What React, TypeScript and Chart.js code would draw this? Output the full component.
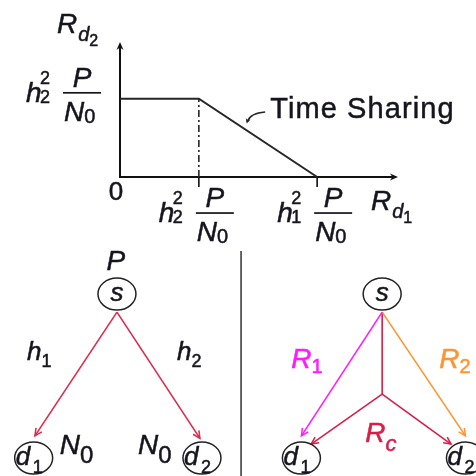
import React, { useEffect, useRef } from "react";
import { Chart, registerables } from "chart.js";

Chart.register(...registerables);

const FONT = '"Liberation Sans", "DejaVu Sans", sans-serif';
const INK = "#15151f";
const LINE = "#262626";

// ---- Rate region (rates in units of P/N0) ----
const h2Snr = 1.0; // h2^2 P/N0
const h1Snr = 2.5; // h1^2 P/N0
const regionX = [0, h2Snr, h1Snr];
const regionY = [h2Snr, h2Snr, 0];
const axisMaxX = 3.5;
const axisMaxY = 1.7;
const rateTicks = [h2Snr, h1Snr];
const rateTickSubs = ["2", "1"];

// ---- Broadcast graphs (abstract layout units) ----
const nodeMain = ["s", "d", "d", "s", "d", "d"];
const nodeSub = ["", "1", "2", "", "1", "2"];
const nodeX = [0, -0.98, 1.0, 3.12, 2.17, 4.1];
const nodeY = [2, 0, 0, 2, 0, 0];

const edgeKind = ["h", "h", "R1", "R2", "Rc", "Rc", "Rc"];
const edgeFromX = [0, 0, 3.12, 3.12, 3.12, 3.12, 3.12];
const edgeFromY = [1.78, 1.78, 1.78, 1.78, 1.78, 0.78, 0.78];
const edgeToX = [-0.965, 0.976, 2.17, 4.1, 3.12, 2.285, 3.93];
const edgeToY = [0.27, 0.24, 0.27, 0.27, 0.78, 0.17, 0.17];
const edgeArrow = [true, true, true, true, false, true, true];
const dividerX = 1.46;

const kindColor: Record<string, string> = {
  h: "#e0284c",
  R1: "#ff1aff",
  R2: "#ff9430",
  Rc: "#d81e48",
};

function setFont(ctx: CanvasRenderingContext2D, size: number, italic: boolean) {
  ctx.font = `${italic ? "italic " : ""}${size}px ${FONT}`;
}

function txt(
  ctx: CanvasRenderingContext2D,
  s: string,
  x: number,
  y: number,
  size: number,
  italic = true,
  align: CanvasTextAlign = "left",
  color = INK,
  spacing = 0
): number {
  setFont(ctx, size, italic);
  (ctx as any).letterSpacing = `${spacing}px`;
  ctx.fillStyle = color;
  ctx.strokeStyle = color;
  ctx.lineWidth = 0.5;
  ctx.textAlign = align;
  ctx.textBaseline = "alphabetic";
  ctx.fillText(s, x, y);
  ctx.strokeText(s, x, y);
  const w = ctx.measureText(s).width;
  (ctx as any).letterSpacing = "0px";
  return w;
}

// h_k^2 * P / N0, with the fraction bar starting at barL
function rateLabel(ctx: CanvasRenderingContext2D, barL: number, barY: number, sub: string) {
  txt(ctx, "h", barL - 37, barY + 9, 28);
  txt(ctx, "2", barL - 23, barY - 9, 18, false);
  txt(ctx, sub, barL - 23, barY + 10, 18, false);
  ctx.fillStyle = INK;
  ctx.fillRect(barL, barY - 0.8, 38, 1.7);
  txt(ctx, "P", barL + 19, barY - 6, 28, true, "center");
  const w = txt(ctx, "N", barL + 1, barY + 28, 28);
  txt(ctx, "0", barL + 1 + w, barY + 30, 20, false);
}

// R_{d_k}
function rateAxisTitle(ctx: CanvasRenderingContext2D, x: number, y: number, k: string) {
  const w = txt(ctx, "R", x, y, 28);
  txt(ctx, "d", x + w + 1, y + 8, 20);
  txt(ctx, k, x + w + 12, y + 13, 16, false);
}

function arrowHead(ctx: CanvasRenderingContext2D, x: number, y: number, ang: number, len: number, half: number) {
  ctx.beginPath();
  ctx.moveTo(x, y);
  ctx.lineTo(x - len * Math.cos(ang) + half * Math.sin(ang), y - len * Math.sin(ang) - half * Math.cos(ang));
  ctx.lineTo(x - len * 0.7 * Math.cos(ang), y - len * 0.7 * Math.sin(ang));
  ctx.lineTo(x - len * Math.cos(ang) - half * Math.sin(ang), y - len * Math.sin(ang) + half * Math.cos(ang));
  ctx.closePath();
  ctx.fill();
}

const regionDecor = {
  id: "regionDecor",
  beforeDatasetsDraw(chart: any) {
    const ctx: CanvasRenderingContext2D = chart.ctx;
    const xs = chart.scales.x;
    const ys = chart.scales.y;
    const ox = xs.getPixelForValue(0);
    const oy = ys.getPixelForValue(0);
    const xEnd = chart.chartArea.right + 2;
    const yEnd = chart.chartArea.top - 2;
    ctx.save();
    ctx.strokeStyle = "#111";
    ctx.fillStyle = "#111";
    ctx.lineWidth = 2;
    ctx.beginPath();
    ctx.moveTo(ox, oy + 1);
    ctx.lineTo(ox, yEnd + 4);
    ctx.moveTo(ox - 1, oy);
    ctx.lineTo(xEnd - 4, oy);
    ctx.stroke();
    arrowHead(ctx, ox, yEnd, -Math.PI / 2, 8, 3.5);
    arrowHead(ctx, xEnd, oy, 0, 8, 3.5);
    // tick marks below the horizontal axis
    ctx.lineWidth = 1.6;
    ctx.beginPath();
    rateTicks.forEach((v) => {
      const px = xs.getPixelForValue(v);
      ctx.moveTo(px, oy);
      ctx.lineTo(px, oy + 10);
    });
    ctx.stroke();
    ctx.restore();
  },
  afterDraw(chart: any) {
    const ctx: CanvasRenderingContext2D = chart.ctx;
    const xs = chart.scales.x;
    const ys = chart.scales.y;
    const ox = xs.getPixelForValue(0);
    const oy = ys.getPixelForValue(0);
    ctx.save();
    // vertical tick label
    rateLabel(ctx, ox - 57, ys.getPixelForValue(h2Snr) - 6, "2");
    // horizontal tick labels
    rateTicks.forEach((v, i) => {
      rateLabel(ctx, xs.getPixelForValue(v) - 3, oy + 36, rateTickSubs[i]);
    });
    txt(ctx, "0", ox - 4, oy + 23, 26, false, "center");
    rateAxisTitle(ctx, ox - 63, chart.chartArea.top - 11, "2");
    rateAxisTitle(ctx, chart.chartArea.right - 25, oy + 33, "1");

    // time-sharing callout on the sloped segment
    const t = 0.4;
    const px = xs.getPixelForValue(h2Snr + t * (h1Snr - h2Snr));
    const py = ys.getPixelForValue(h2Snr * (1 - t));
    ctx.strokeStyle = LINE;
    ctx.fillStyle = LINE;
    ctx.lineWidth = 1.6;
    ctx.beginPath();
    ctx.moveTo(px + 1, py - 8);
    ctx.quadraticCurveTo(px + 4, py - 17, px + 19, py - 18);
    ctx.stroke();
    arrowHead(ctx, px + 0.5, py - 6.5, Math.PI / 2 + 0.3, 5, 2.5);
    txt(ctx, "Time Sharing", px + 24, py - 12, 29, false, "left", INK, 1.1);
    ctx.restore();
  },
};

const graphDecor = {
  id: "graphDecor",
  afterDatasetsDraw(chart: any) {
    const ctx: CanvasRenderingContext2D = chart.ctx;
    const xs = chart.scales.x;
    const ys = chart.scales.y;
    ctx.save();
    // arrowheads
    edgeKind.forEach((k, i) => {
      if (!edgeArrow[i]) return;
      const pts = chart.getDatasetMeta(i).data;
      const a = pts[0];
      const b = pts[pts.length - 1];
      const ang = Math.atan2(b.y - a.y, b.x - a.x);
      ctx.strokeStyle = kindColor[k];
      ctx.lineWidth = 1.5;
      ctx.beginPath();
      ctx.moveTo(b.x - 8 * Math.cos(ang - 0.45), b.y - 8 * Math.sin(ang - 0.45));
      ctx.lineTo(b.x, b.y);
      ctx.lineTo(b.x - 8 * Math.cos(ang + 0.45), b.y - 8 * Math.sin(ang + 0.45));
      ctx.stroke();
    });
    // nodes
    nodeMain.forEach((m, i) => {
      const cx = xs.getPixelForValue(nodeX[i]);
      const cy = ys.getPixelForValue(nodeY[i]);
      ctx.strokeStyle = "#222";
      ctx.lineWidth = 1.5;
      ctx.beginPath();
      ctx.ellipse(cx, cy, 19, 16, 0, 0, Math.PI * 2);
      ctx.stroke();
      if (nodeSub[i]) {
        txt(ctx, m, cx - 18, cy + 7, 26);
        txt(ctx, nodeSub[i], cx - 1, cy + 15, 18, false);
      } else {
        txt(ctx, m, cx, cy + 7, 26, true, "center");
      }
    });
    // divider between the two graphs
    const dx = xs.getPixelForValue(dividerX);
    ctx.strokeStyle = "#333";
    ctx.lineWidth = 1.5;
    ctx.beginPath();
    ctx.moveTo(dx, 1);
    ctx.lineTo(dx, chart.height);
    ctx.stroke();

    // left graph labels
    const sL = { x: xs.getPixelForValue(nodeX[0]), y: ys.getPixelForValue(nodeY[0]) };
    const d1L = { x: xs.getPixelForValue(nodeX[1]), y: ys.getPixelForValue(nodeY[1]) };
    const d2L = { x: xs.getPixelForValue(nodeX[2]), y: ys.getPixelForValue(nodeY[2]) };
    txt(ctx, "P", sL.x - 1, sL.y - 24, 28, true, "center");
    let w = txt(ctx, "h", sL.x - 90, sL.y + 66, 26);
    txt(ctx, "1", sL.x - 90 + w, sL.y + 73, 18, false);
    w = txt(ctx, "h", sL.x + 60, sL.y + 66, 26);
    txt(ctx, "2", sL.x + 60 + w, sL.y + 73, 18, false);
    w = txt(ctx, "N", d1L.x + 26, d1L.y - 4, 28);
    txt(ctx, "0", d1L.x + 26 + w, d1L.y + 5, 24, false);
    w = txt(ctx, "N", d2L.x - 64, d2L.y - 4, 28);
    txt(ctx, "0", d2L.x - 64 + w, d2L.y + 5, 24, false);

    // right graph labels
    const sR = { x: xs.getPixelForValue(nodeX[3]), y: ys.getPixelForValue(nodeY[3]) };
    w = txt(ctx, "R", sR.x - 91, sR.y + 74, 28, true, "left", kindColor.R1);
    txt(ctx, "1", sR.x - 91 + w, sR.y + 79, 20, false, "left", kindColor.R1);
    w = txt(ctx, "R", sR.x + 57, sR.y + 74, 28, true, "left", kindColor.R2);
    txt(ctx, "2", sR.x + 57 + w, sR.y + 79, 20, false, "left", kindColor.R2);
    w = txt(ctx, "R", sR.x - 17, sR.y + 148, 28, true, "left", kindColor.Rc);
    txt(ctx, "c", sR.x - 17 + w, sR.y + 157, 22, true, "left", kindColor.Rc);
    ctx.restore();
  },
};

function regionConfig(): any {
  return {
    type: "scatter",
    data: {
      datasets: [
        {
          data: regionX.map((x, i) => ({ x, y: regionY[i] })),
          showLine: true,
          borderColor: LINE,
          borderWidth: 2,
          pointRadius: 0,
          clip: false,
        },
        {
          data: [
            { x: h2Snr, y: 0 },
            { x: h2Snr, y: h2Snr },
          ],
          showLine: true,
          borderColor: LINE,
          borderWidth: 1.6,
          borderDash: [7, 3, 2, 3],
          pointRadius: 0,
          clip: false,
        },
      ],
    },
    options: {
      animation: false,
      responsive: false,
      devicePixelRatio: 1,
      events: [],
      layout: { padding: { left: 120, right: 80, top: 44, bottom: 73 } },
      scales: {
        x: { type: "linear", min: 0, max: axisMaxX, display: false },
        y: { type: "linear", min: 0, max: axisMaxY, display: false },
      },
      plugins: { legend: { display: false }, tooltip: { enabled: false } },
    },
    plugins: [regionDecor],
  };
}

function graphConfig(): any {
  return {
    type: "scatter",
    data: {
      datasets: edgeKind.map((k, i) => ({
        data: [
          { x: edgeFromX[i], y: edgeFromY[i] },
          { x: edgeToX[i], y: edgeToY[i] },
        ],
        showLine: true,
        borderColor: kindColor[k],
        borderWidth: 1.6,
        pointRadius: 0,
        clip: false,
      })),
    },
    options: {
      animation: false,
      responsive: false,
      devicePixelRatio: 1,
      events: [],
      layout: { padding: 0 },
      scales: {
        x: { type: "linear", min: -1.376, max: 4.224, display: false },
        y: { type: "linear", min: -0.219, max: 2.537, display: false },
      },
      plugins: { legend: { display: false }, tooltip: { enabled: false } },
    },
    plugins: [graphDecor],
  };
}

export default function App() {
  const topRef = useRef<HTMLCanvasElement>(null);
  const botRef = useRef<HTMLCanvasElement>(null);

  useEffect(() => {
    const top = new Chart(topRef.current as HTMLCanvasElement, regionConfig());
    const bot = new Chart(botRef.current as HTMLCanvasElement, graphConfig());
    return () => {
      top.destroy();
      bot.destroy();
    };
  }, []);

  return (
    <div style={{ position: "fixed", left: 0, top: 0, width: 476, height: 476, background: "#fff" }}>
      <canvas
        ref={topRef}
        width={476}
        height={250}
        style={{ position: "absolute", left: 0, top: 0, width: 476, height: 250 }}
      />
      <canvas
        ref={botRef}
        width={476}
        height={226}
        style={{ position: "absolute", left: 0, top: 250, width: 476, height: 226 }}
      />
    </div>
  );
}
